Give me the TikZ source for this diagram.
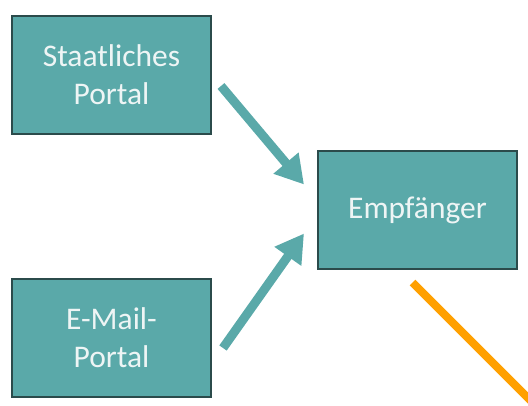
\documentclass[tikz,border=0pt]{standalone}
\usepackage{fontspec}
\setmainfont{Carlito}
\usepackage{tikz}
\usetikzlibrary{arrows.meta,positioning}
\definecolor{boxteal}{HTML}{5AA9A9}
\definecolor{boxedge}{HTML}{2B4B4B}
\definecolor{boxtext}{HTML}{EEF5F5}
\definecolor{linkorange}{HTML}{FFA000}
\tikzstyle{box}=[
	rectangle,
	draw=boxedge,
	line width=2pt,
	fill=boxteal,
	text=boxtext,
	outer sep=0pt,
	minimum width=199pt,
	minimum height=118pt,
	align=center,
	font=\fontsize{31.5}{38}\selectfont
]
\tikzstyle{flow}=[
	-{Triangle[length=28pt,width=31pt]},
	line width=9pt,
	draw=boxteal
]
\tikzstyle{link}=[
	-,
	line width=8pt,
	draw=linkorange
]
\begin{document}
\begin{tikzpicture}
\clip (0,0) rectangle (528pt,-406pt);
\node[box] (staat) at (111.5pt,-75pt) {Staatliches\\Portal};
\node[box, below=145pt of staat] (mail) {E-Mail-\\Portal};
\node[box] (empf) at (417.5pt,-210.5pt) {Empf\"anger};

\coordinate (out) at (560pt,-430pt);

\draw[flow] ([xshift=10pt,yshift=-11pt]staat.east) to ([xshift=-14pt,yshift=26pt]empf.west);
\draw[flow] ([xshift=12pt,yshift=-10pt]mail.east) to ([xshift=-14pt,yshift=-23pt]empf.west);
\draw[link] ([xshift=-5pt,yshift=-13pt]empf.south) to (out);
\end{tikzpicture}
\end{document}
